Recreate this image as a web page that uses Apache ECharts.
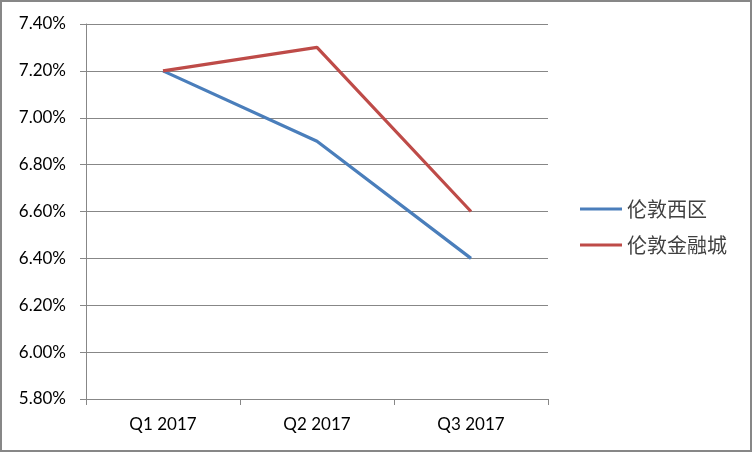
<!DOCTYPE html>
<html><head><meta charset="utf-8">
<script src="https://cdn.jsdelivr.net/npm/echarts@6/dist/echarts.min.js"></script>
<style>html,body{margin:0;padding:0;background:#fff}#c{width:752px;height:452px;box-sizing:border-box;border:2px solid #878787}</style>
</head><body><div id="c"></div>
<script>
var categories = ['Q1 2017', 'Q2 2017', 'Q3 2017'];
var seriesNames = ['伦敦西区', '伦敦金融城'];
var westEnd = [7.20, 6.90, 6.40];
var city = [7.20, 7.30, 6.60];
var yMin = 5.8, yMax = 7.4, yStep = 0.2;

var chart = echarts.init(document.getElementById('c'));
var font = 'Lato, "Noto Sans CJK SC", sans-serif';
chart.setOption({
  animation: false,
  grid: { left: 84, top: 22, right: 202, bottom: 51, containLabel: false },
  legend: {
    orient: 'vertical', left: 578, top: 197, padding: 0, itemWidth: 42, itemHeight: 3, itemGap: 16,
    icon: 'rect',
    textStyle: { fontSize: 20, color: '#404040', fontFamily: '"Noto Sans CJK SC", sans-serif', padding: [0, 0, 0, 0] },
    data: seriesNames
  },
  xAxis: {
    type: 'category', data: categories, boundaryGap: true,
    axisLine: { lineStyle: { color: '#878787', width: 1 } },
    axisTick: { show: true, length: 6, lineStyle: { color: '#878787' } },
    axisLabel: { color: '#000', fontSize: 17, fontFamily: font, margin: 17 }
  },
  yAxis: {
    type: 'value', min: yMin, max: yMax, interval: yStep,
    axisLine: { show: true, lineStyle: { color: '#878787', width: 1 } },
    axisTick: { show: true, length: 6, lineStyle: { color: '#878787' } },
    splitLine: { lineStyle: { color: '#878787', width: 1 } },
    axisLabel: { color: '#000', fontSize: 17, fontFamily: font, margin: 20,
      formatter: function (v) { return v.toFixed(2) + '%'; } }
  },
  series: [
    { name: seriesNames[0], type: 'line', data: westEnd, symbol: 'none',
      lineStyle: { color: '#4A7EBB', width: 3.2 }, itemStyle: { color: '#4A7EBB' } },
    { name: seriesNames[1], type: 'line', data: city, symbol: 'none',
      lineStyle: { color: '#BE4B48', width: 3.2 }, itemStyle: { color: '#BE4B48' } }
  ]
});
</script></body></html>
